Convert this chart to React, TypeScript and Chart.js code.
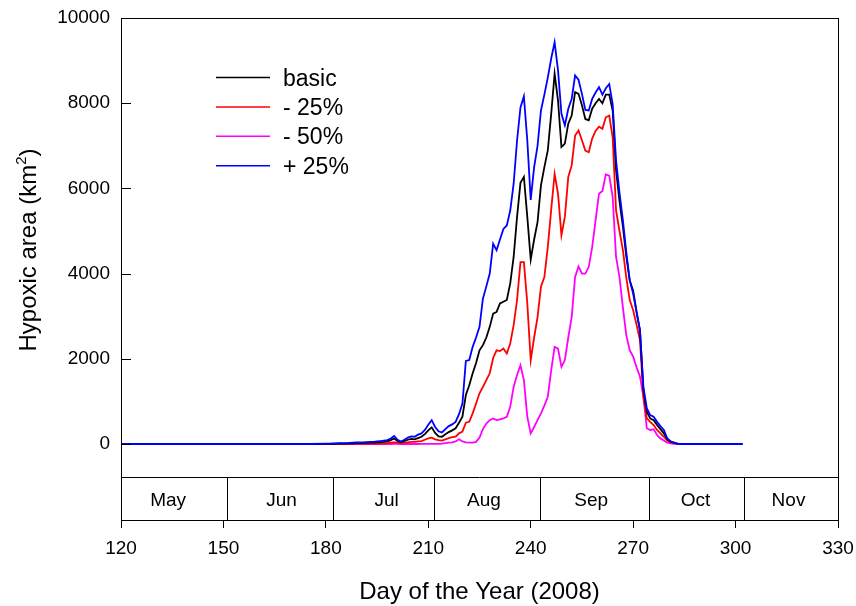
import React, { useEffect, useRef } from "react";
import { Chart, registerables } from "chart.js";

Chart.register(...registerables);

const FONT = '"Liberation Sans", Arial, Helvetica, sans-serif';

// ---- data ----
const leadDays = [120, 135, 150, 165, 175];
const dailyStart = 180;
const dailyEnd = 302;
const days: number[] = [...leadDays];
for (let d = dailyStart; d <= dailyEnd; d++) days.push(d);

const leadZeros = [0, 0, 0, 0, 0];

// days 180..302
const plus25 = [
  10, 10, 15, 15, 20,
  20, 20, 25, 30, 35, 40, 40, 45, 50, 50,
  60, 70, 80, 90, 130, 190, 100, 60, 100, 150,
  180, 170, 220, 250, 330, 450, 560, 400, 300, 270,
  350, 420, 460, 520, 700, 950, 1950, 1970, 2280, 2500,
  2750, 3410, 3700, 4000, 4700, 4550, 4800, 5050, 5130, 5480,
  6110, 7125, 7900, 8160, 7125, 5730, 6500, 7000, 7830, 8200,
  8600, 9050, 9430, 8770, 7750, 7480, 7870, 8100, 8650, 8550,
  8220, 7840, 7830, 8100, 8250, 8375, 8200, 8350, 8450, 7980,
  6650, 5900, 5250, 4500, 3840, 3530, 3100, 2670, 1340, 840,
  680, 640, 520, 420, 330, 130, 60, 30, 10, 0,
  0, 0, 0, 0, 0, 0, 0, 0, 0, 0,
  0, 0, 0, 0, 0, 0, 0, 0,
];

const basic = [
  5, 5, 5, 8, 8,
  10, 10, 15, 15, 20, 20, 25, 30, 30, 35,
  40, 45, 50, 60, 90, 130, 70, 40, 70, 100,
  120, 110, 140, 170, 230, 320, 390, 260, 180, 170,
  230, 280, 320, 370, 500, 640, 1150, 1380, 1660, 1900,
  2200, 2320, 2500, 2750, 3060, 3100, 3300, 3340, 3380, 3770,
  4390, 5330, 6130, 6270, 5330, 4330, 4800, 5210, 6070, 6500,
  6890, 7750, 8690, 8060, 6970, 7050, 7520, 7710, 8260, 8220,
  7950, 7630, 7600, 7870, 8000, 8100, 8000, 8200, 8200, 7830,
  6430, 5700, 5100, 4400, 3840, 3600, 3100, 2670, 1270, 760,
  600, 560, 445, 350, 250, 110, 50, 30, 10, 0,
  0, 0, 0, 0, 0, 0, 0, 0, 0, 0,
  0, 0, 0, 0, 0, 0, 0, 0,
];

const minus25 = [
  0, 0, 0, 0, 0,
  0, 0, 5, 5, 5, 5, 5, 5, 10, 10,
  10, 10, 15, 20, 30, 40, 30, 20, 30, 40,
  50, 50, 60, 70, 100, 130, 150, 110, 90, 80,
  110, 140, 160, 170, 250, 290, 500, 520, 720, 950,
  1190, 1340, 1500, 1660, 2020, 2200, 2180, 2240, 2125, 2360,
  2790, 3380, 4270, 4270, 3300, 1970, 2500, 2980, 3690, 3920,
  4620, 5500, 6340, 5875, 4900, 5330, 6270, 6540, 7240, 7360,
  7130, 6890, 6850, 7170, 7350, 7450, 7400, 7670, 7710, 7200,
  5480, 5000, 4550, 3900, 3380, 3140, 2800, 2440, 1110, 600,
  520, 445, 330, 250, 170, 80, 40, 20, 5, 0,
  0, 0, 0, 0, 0, 0, 0, 0, 0, 0,
  0, 0, 0, 0, 0, 0, 0, 0,
];

const minus50 = [
  0, 0, 0, 0, 0,
  0, 0, 0, 0, 0, 0, 0, 0, 0, 0,
  0, 0, 0, 0, 0, 5, 5, 0, 0, 0,
  0, 0, 0, 5, 5, 5, 5, 5, 5, 10,
  20, 30, 40, 60, 110, 60, 40, 30, 30, 50,
  150, 350, 480, 560, 600, 560, 580, 600, 640, 875,
  1340, 1620, 1850, 1500, 640, 250, 400, 560, 720, 900,
  1110, 1730, 2280, 2240, 1810, 1970, 2500, 2980, 3920, 4170,
  4000, 4000, 4160, 4620, 5250, 5875, 5940, 6330, 6300, 5800,
  4390, 3920, 3200, 2550, 2200, 2050, 1800, 1580, 1110, 370,
  330, 345, 210, 130, 80, 30, 15, 5, 0, 0,
  0, 0, 0, 0, 0, 0, 0, 0, 0, 0,
  0, 0, 0, 0, 0, 0, 0, 0,
];

const seriesNames = ["basic", "- 25%", "- 50%", "+ 25%"];
const seriesColors = ["#000000", "#ff0000", "#ff00ff", "#0000ff"];
const seriesValues = [basic, minus25, minus50, plus25];
const seriesOrder = [1, 2, 3, 0];

const yTicks = [0, 2000, 4000, 6000, 8000, 10000];
const xTicks = [120, 150, 180, 210, 240, 270, 300, 330];

const monthNames = ["May", "Jun", "Jul", "Aug", "Sep", "Oct", "Nov"];
const monthCenters = [133.8, 167, 197.8, 226.3, 257.7, 288.3, 315.5];
const monthBounds = [151, 182, 211.7, 242.8, 274.6, 302.5];

const Y_MIN = -1784;
const Y_MAX = 10000;
const BAND_TOP = -780;

const xTitle = "Day of the Year (2008)";
const yTitleMain = "Hypoxic area (km";
const yTitleSup = "2";
const yTitleEnd = ")";

const customPlugin = {
  id: "customDecor",
  afterDraw(chart: any) {
    const { ctx, chartArea: a, scales } = chart;
    const x = scales.x;
    const y = scales.y;
    const L = Math.round(a.left);
    const R = Math.round(a.right);
    const T = Math.round(a.top);
    const B = Math.round(a.bottom);
    ctx.save();
    ctx.strokeStyle = "#000";
    ctx.lineWidth = 1;
    // frame
    ctx.strokeRect(L + 0.5, T + 0.5, R - L, B - T);
    // y inward ticks
    ctx.beginPath();
    for (const v of yTicks) {
      const py = Math.round(y.getPixelForValue(v)) + 0.5;
      ctx.moveTo(L, py);
      ctx.lineTo(L + 10, py);
    }
    ctx.stroke();
    // month band
    const by = Math.round(y.getPixelForValue(BAND_TOP)) + 0.5;
    ctx.beginPath();
    ctx.moveTo(L, by);
    ctx.lineTo(R, by);
    for (const d of monthBounds) {
      const px = Math.round(x.getPixelForValue(d)) + 0.5;
      ctx.moveTo(px, by);
      ctx.lineTo(px, B);
    }
    ctx.stroke();
    ctx.fillStyle = "#000";
    ctx.font = `19px ${FONT}`;
    ctx.textAlign = "center";
    ctx.textBaseline = "alphabetic";
    monthNames.forEach((m, i) => {
      ctx.fillText(m, x.getPixelForValue(monthCenters[i]), B - 14);
    });

    // legend
    ctx.font = `23px ${FONT}`;
    ctx.textAlign = "left";
    seriesNames.forEach((n, i) => {
      const ly = T + 59.5 + i * 29.4;
      ctx.strokeStyle = seriesColors[i];
      ctx.lineWidth = 1.5;
      ctx.beginPath();
      ctx.moveTo(L + 95, ly);
      ctx.lineTo(L + 149, ly);
      ctx.stroke();
      ctx.fillText(n, L + 162, ly + 8);
    });

    // x title
    ctx.font = `24px ${FONT}`;
    ctx.textAlign = "center";
    ctx.fillText(xTitle, (L + R) / 2, 599);

    // y title
    ctx.save();
    ctx.translate(36, 250);
    ctx.rotate(-Math.PI / 2);
    ctx.textAlign = "left";
    ctx.font = `24px ${FONT}`;
    const w1 = ctx.measureText(yTitleMain).width;
    const w3 = ctx.measureText(yTitleEnd).width;
    ctx.font = `15px ${FONT}`;
    const w2 = ctx.measureText(yTitleSup).width;
    const total = w1 + w2 + w3;
    let sx = -total / 2;
    ctx.font = `24px ${FONT}`;
    ctx.fillText(yTitleMain, sx, 0);
    sx += w1;
    ctx.font = `15px ${FONT}`;
    ctx.fillText(yTitleSup, sx, -10);
    sx += w2;
    ctx.font = `24px ${FONT}`;
    ctx.fillText(yTitleEnd, sx, 0);
    ctx.restore();

    ctx.restore();
  },
};

export default function App() {
  const canvasRef = useRef<HTMLCanvasElement | null>(null);

  useEffect(() => {
    const canvas = canvasRef.current;
    if (!canvas) return;
    const datasets = seriesNames.map((name, i) => {
      const vals = [...leadZeros, ...seriesValues[i]];
      return {
        label: name,
        data: days.map((d, k) => ({ x: d, y: vals[k] })),
        borderColor: seriesColors[i],
        backgroundColor: seriesColors[i],
        borderWidth: 1.8,
        pointRadius: 0,
        tension: 0,
        fill: false,
        order: seriesOrder[i],
      };
    });
    const chart = new Chart(canvas, {
      type: "line",
      data: { datasets },
      options: {
        responsive: false,
        animation: false,
        devicePixelRatio: 1,
        layout: { padding: { left: 0, top: 18, right: 18, bottom: 0 } },
        plugins: {
          legend: { display: false },
          tooltip: { enabled: false },
          title: { display: false },
        },
        scales: {
          x: {
            type: "linear",
            min: 120,
            max: 330,
            afterBuildTicks: (s: any) => {
              s.ticks = xTicks.map((v) => ({ value: v }));
            },
            ticks: {
              font: { family: FONT, size: 19 },
              color: "#000",
              padding: 9,
              maxRotation: 0,
              autoSkip: false,
              callback: (v: any) => String(v),
            },
            grid: {
              display: true,
              drawOnChartArea: false,
              drawTicks: true,
              tickLength: 8,
              color: "#000",
              lineWidth: 1,
            },
            border: { display: false },
            afterFit: (s: any) => {
              s.height = 86;
              s.paddingLeft = 0;
              s.paddingRight = 0;
            },
          },
          y: {
            type: "linear",
            min: Y_MIN,
            max: Y_MAX,
            afterBuildTicks: (s: any) => {
              s.ticks = yTicks.map((v) => ({ value: v }));
            },
            ticks: {
              font: { family: FONT, size: 19 },
              color: "#000",
              padding: 11,
              autoSkip: false,
              callback: (v: any) => String(v),
            },
            grid: { display: false, drawTicks: false },
            border: { display: false },
            afterFit: (s: any) => {
              s.width = 121;
              s.paddingTop = 0;
              s.paddingBottom = 0;
            },
          },
        },
      },
      plugins: [customPlugin],
    } as any);
    return () => chart.destroy();
  }, []);

  return (
    <div style={{ position: "absolute", left: 0, top: 0, width: 856, height: 606, background: "#fff" }}>
      <canvas ref={canvasRef} width={856} height={606} style={{ display: "block" }} />
    </div>
  );
}
